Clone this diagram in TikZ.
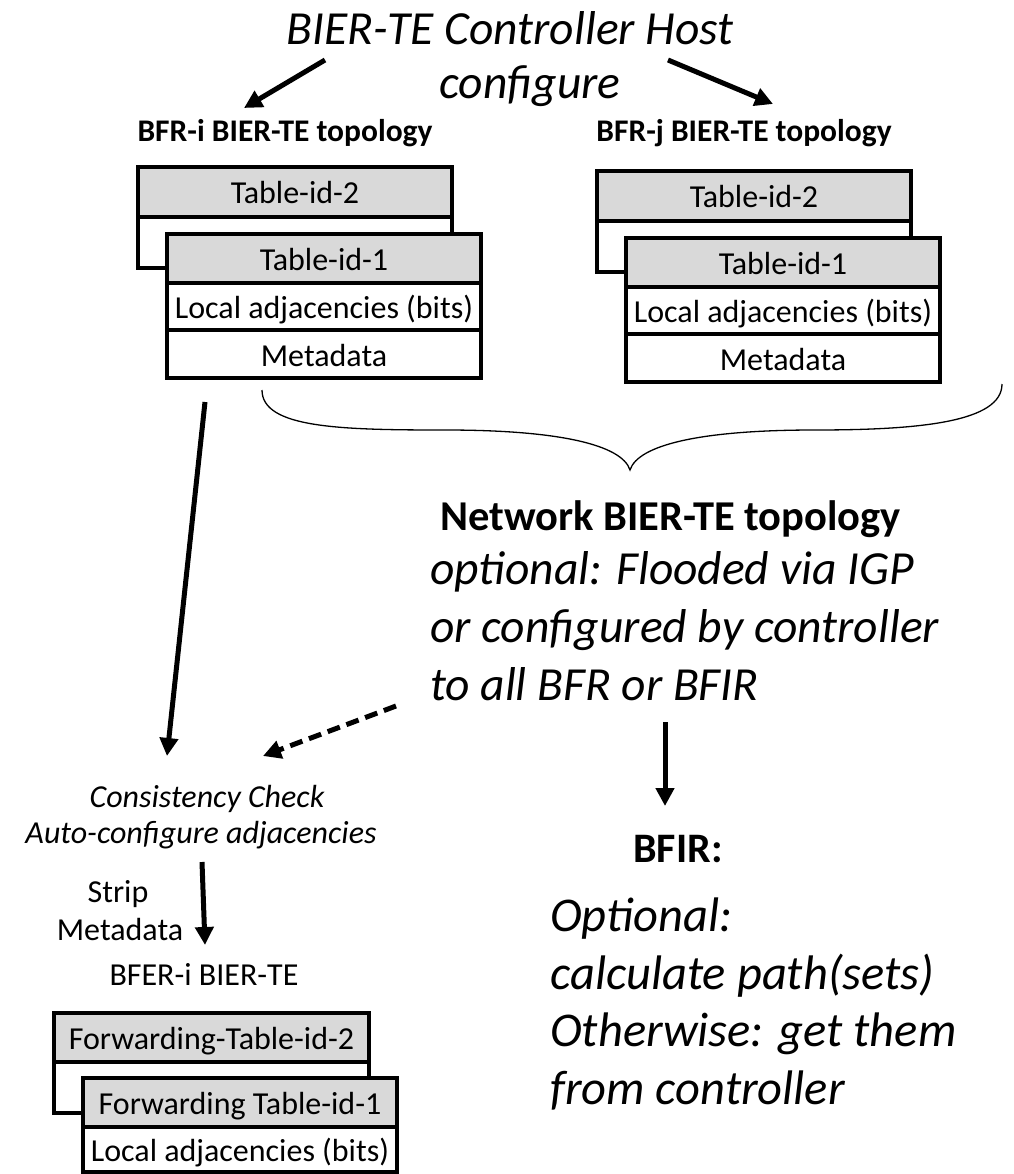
\documentclass[tikz,border=0pt]{standalone}
\usepackage{fontspec}
\setmainfont{Carlito}
\usetikzlibrary{arrows.meta}
\definecolor{tgray}{HTML}{D9D9D9}
\tikzset{
  tbox/.style={draw, line width=3.5pt, minimum width=314pt, inner sep=0pt,
    text height=28pt, text depth=4pt, font=\fontsize{32}{38}\selectfont},
  gbox/.style={tbox, fill=tgray},
  wbox/.style={tbox, fill=white},
  arr/.style={line width=5pt, -{Triangle[length=18pt,width=18pt]}},
  darr/.style={arr, dash pattern=on 13pt off 7pt},
  lbl/.style={anchor=base, inner sep=0pt},
  big/.style={font=\fontsize{47.5}{56}\selectfont\itshape},
  bigr/.style={font=\fontsize{48.5}{56}\selectfont\itshape},
  small/.style={font=\fontsize{32}{38}\selectfont},
  smallit/.style={font=\fontsize{32}{38}\selectfont\itshape},
  hdr/.style={font=\fontsize{31.5}{38}\selectfont\bfseries},
}
\begin{document}
\begin{tikzpicture}[x=1pt,y=-1pt]
\useasboundingbox (0,0) rectangle (1013,1174);

% title
\node[lbl, big] (title) at (510,45) {BIER-TE Controller Host};
\node[lbl, big] (conf) at (530,99) {configure};

% headers
\node[lbl, hdr] (hi) at (285,142) {BFR-i BIER-TE topology};
\node[lbl, hdr] (hj) at (744,142) {BFR-j BIER-TE topology};

\coordinate (a1s) at (325,60);
\coordinate (a1e) at (244,108);
\coordinate (a2s) at (668,60);
\coordinate (a2e) at (773,104);
\draw[arr] (a1s) -- (a1e);
\draw[arr] (a2s) -- (a2e);

% left group
\node[wbox, minimum height=101pt] (lback) at (295,217.5) {};
\node[gbox, minimum height=50pt] (lt2) at (295,192) {Table-id-2};
\node[gbox, minimum height=49pt] (lt1) at (324,258.5) {Table-id-1};
\node[wbox, minimum height=47pt] (lla) at (324,306.5) {Local adjacencies (bits)};
\node[wbox, minimum height=48pt] (lmd) at (324,354) {Metadata};

% right group
\node[wbox, minimum height=101pt] (rback) at (754,221.5) {};
\node[gbox, minimum height=50pt] (rt2) at (754,196) {Table-id-2};
\node[gbox, minimum height=49pt] (rt1) at (783,262.5) {Table-id-1};
\node[wbox, minimum height=47pt] (rla) at (783,310.5) {Local adjacencies (bits)};
\node[wbox, minimum height=48pt] (rmd) at (783,358) {Metadata};

% brace
\coordinate (bl) at (262,390);
\coordinate (bt) at (630,470);
\coordinate (br) at (1002,384);
\draw[line width=1.3pt] (bl) .. controls (262,428) and (340,430) .. (445,430)
  .. controls (560,430) and (622,445) .. (bt)
  .. controls (638,445) and (700,430) .. (815,430)
  .. controls (920,430) and (1002,422) .. (br);

% network text
\node[lbl, anchor=base west, font=\fontsize{42.5}{50}\selectfont\bfseries] (net) at (440,530) {Network BIER-TE topology};
\node[lbl, anchor=base west, big] (opt1) at (430,584) {optional: Flooded via IGP};
\node[lbl, anchor=base west, big] (opt2) at (430,642) {or configured by controller};
\node[lbl, anchor=base west, big] (opt3) at (430,700) {to all BFR or BFIR};

% arrows to consistency
\coordinate (c1s) at (205,402);
\coordinate (c1e) at (167,756);
\draw[arr] (c1s) -- (c1e);
\coordinate (c2s) at (396,706);
\coordinate (c2e) at (263,756);
\draw[darr] (c2s) -- (c2e);

\node[lbl, smallit] (cc1) at (207,807) {Consistency Check};
\node[lbl, smallit] (cc2) at (201,843) {Auto-configure adjacencies};

\coordinate (s1s) at (202,862);
\coordinate (s1e) at (205,945);
\draw[arr] (s1s) -- (s1e);
\node[lbl, small] (strip) at (118,902) {Strip};
\node[lbl, small] (meta) at (120,940) {Metadata};
\node[lbl, small] (bfer) at (204,985) {BFER-i BIER-TE};

% bottom group
\node[wbox, minimum width=315pt, minimum height=100pt] (bback) at (211.5,1063) {};
\node[gbox, minimum width=315pt, minimum height=49pt] (bt2) at (211.5,1037.5) {Forwarding-Table-id-2};
\node[gbox, minimum height=49pt] (bt1) at (240,1102.5) {Forwarding Table-id-1};
\node[wbox, minimum height=45pt] (bla) at (240,1149.5) {Local adjacencies (bits)};

% BFIR
\coordinate (f1s) at (665,722);
\coordinate (f1e) at (665,806);
\draw[arr] (f1s) -- (f1e);
\node[lbl, font=\fontsize{42}{50}\selectfont\bfseries] (bfir) at (678,862) {BFIR:};
\node[lbl, anchor=base west, bigr] (o1) at (550,931) {Optional:};
\node[lbl, anchor=base west, bigr] (o2) at (550,989) {calculate path(sets)};
\node[lbl, anchor=base west, bigr] (o3) at (550,1046) {Otherwise: get them};
\node[lbl, anchor=base west, bigr] (o4) at (550,1104) {from controller};
\end{tikzpicture}
\end{document}
